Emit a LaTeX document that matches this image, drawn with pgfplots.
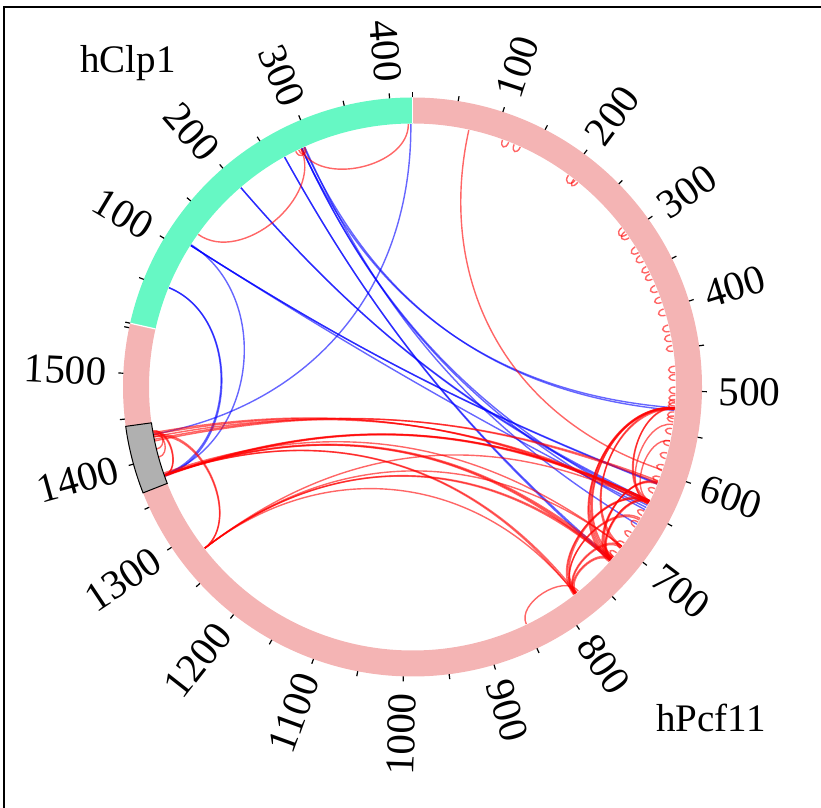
\documentclass[border=0pt]{standalone}
\usepackage{pgfplots}
\pgfplotsset{compat=1.18}
\usepackage{pgfplotstable}
\usepackage{fontspec}
\setmainfont{Liberation Serif}

\definecolor{ringP}{RGB}{244,180,180}
\definecolor{ringC}{RGB}{102,248,196}
\definecolor{domainfill}{RGB}{176,176,176}

\tikzset{
  linkr/.style={draw=red, line width=0.7bp, draw opacity=0.6},
  linkb/.style={draw=blue, line width=0.7bp, draw opacity=0.6},
}
\newcommand\ticklabelfont{\fontsize{20.5bp}{24bp}\selectfont}
\newcommand\namefont{\fontsize{19.5bp}{23bp}\selectfont}

% Cross-links: segment and residue of each end (P = hPcf11, C = hClp1), link class
\pgfplotstableread{
s1 p1 s2 p2 c
C 423 P 1428 b
C 288 P 520 b
C 291 P 523 b
C 288 P 642 b
C 292 P 668 b
C 288 P 648 b
C 265 P 720 b
C 265 P 722 b
C 201 P 636 b
C 201 P 638 b
C 109 P 613 b
C 109 P 614 b
C 109 P 645 b
C 110 P 1378 b
C 52 P 1376 b
C 52 P 1378 b
C 287 C 420 r
C 287 C 125 r
C 280 C 290 r
C 284 C 292 r
P 68 P 596 r
P 1377 P 636 r
P 1377 P 637 r
P 1378 P 636 r
P 1376 P 638 r
P 1425 P 636 r
P 1428 P 638 r
P 1430 P 640 r
P 1420 P 610 r
P 1422 P 612 r
P 1377 P 720 r
P 1377 P 722 r
P 1378 P 718 r
P 1380 P 700 r
P 1377 P 780 r
P 1377 P 778 r
P 1277 P 700 r
P 1277 P 720 r
P 1277 P 722 r
P 1277 P 780 r
P 1277 P 640 r
P 1277 P 1425 r
P 1277 P 1427 r
P 1377 P 1430 r
P 1377 P 1432 r
P 1400 P 1428 r
P 1410 P 1432 r
P 520 P 720 r
P 520 P 722 r
P 521 P 718 r
P 520 P 716 r
P 522 P 724 r
P 520 P 636 r
P 521 P 638 r
P 520 P 700 r
P 522 P 702 r
P 540 P 640 r
P 560 P 636 r
P 613 P 720 r
P 614 P 722 r
P 612 P 718 r
P 636 P 720 r
P 637 P 721 r
P 638 P 719 r
P 636 P 780 r
P 637 P 778 r
P 638 P 782 r
P 660 P 780 r
P 662 P 781 r
P 700 P 780 r
P 702 P 779 r
P 720 P 780 r
P 722 P 778 r
P 775 P 849 r
P 110 P 118 r
P 125 P 133 r
P 200 P 210 r
P 208 P 214 r
P 290 P 300 r
P 296 P 305 r
P 318 P 326 r
P 330 P 338 r
P 345 P 352 r
P 355 P 362 r
P 370 P 378 r
P 385 P 392 r
P 400 P 408 r
P 420 P 428 r
P 432 P 440 r
P 445 P 452 r
P 470 P 478 r
P 480 P 487 r
P 495 P 503 r
P 505 P 512 r
P 510 P 518 r
P 514 P 522 r
P 525 P 533 r
P 530 P 537 r
P 545 P 552 r
P 560 P 566 r
P 575 P 582 r
P 590 P 597 r
P 605 P 611 r
P 620 P 626 r
P 650 P 656 r
P 665 P 672 r
P 680 P 686 r
P 695 P 703 r
P 710 P 716 r
}\linktable

\begin{document}
\begin{tikzpicture}
\begin{axis}[
  at={(0,0)}, anchor=south west,
  width=410.5bp, height=404bp, scale only axis,
  xmin=-412.5, xmax=408.5, ymin=-421, ymax=387,
  hide axis, clip=false]
\coordinate (O) at (axis cs:0,0);

% frame
\draw[line width=1.1bp] (axis cs:-408.5,-440) -- (axis cs:-408.5,380) -- (axis cs:430,380);

% links as Bezier curves leaving the ring radially (1980 residues around the circle)
\def\segC{C}
\pgfplotstablegetrowsof{\linktable}
\pgfmathtruncatemacro\lastrow{\pgfplotsretval-1}
\pgfplotsforeachungrouped \i in {0,...,\lastrow}{%
  \pgfplotstablegetelem{\i}{s1}\of\linktable \edef\sa{\pgfplotsretval}%
  \pgfplotstablegetelem{\i}{p1}\of\linktable \edef\pa{\pgfplotsretval}%
  \pgfplotstablegetelem{\i}{s2}\of\linktable \edef\sb{\pgfplotsretval}%
  \pgfplotstablegetelem{\i}{p2}\of\linktable \edef\pb{\pgfplotsretval}%
  \pgfplotstablegetelem{\i}{c}\of\linktable \edef\lc{\pgfplotsretval}%
  \ifx\sa\segC \pgfmathsetmacro\ua{1555+\pa}\else \pgfmathsetmacro\ua{\pa}\fi
  \ifx\sb\segC \pgfmathsetmacro\ub{1555+\pb}\else \pgfmathsetmacro\ub{\pb}\fi
  \pgfmathsetmacro\ta{90-\ua/5.5}%
  \pgfmathsetmacro\tb{90-\ub/5.5}%
  \pgfmathsetmacro\dd{abs(\ta-\tb)}%
  \pgfmathsetmacro\dd{min(\dd,360-\dd)}%
  \pgfmathsetmacro\rc{263*(0.25+0.72*exp(-\dd*sqrt(\dd)/585.7))}%
  \pgfmathsetmacro\xa{263*cos(\ta)}\pgfmathsetmacro\ya{263*sin(\ta)}%
  \pgfmathsetmacro\xb{263*cos(\tb)}\pgfmathsetmacro\yb{263*sin(\tb)}%
  \pgfmathsetmacro\cxa{\rc*cos(\ta)}\pgfmathsetmacro\cya{\rc*sin(\ta)}%
  \pgfmathsetmacro\cxb{\rc*cos(\tb)}\pgfmathsetmacro\cyb{\rc*sin(\tb)}%
  \edef\tmp{\noexpand\draw[link\lc] (axis cs:\xa,\ya) .. controls (axis cs:\cxa,\cya) and (axis cs:\cxb,\cyb) .. (axis cs:\xb,\yb);}%
  \tmp
}

% ideogram ring: hPcf11 (1555 aa) and hClp1 (425 aa)
\draw[ringP, line width=13bp] ([shift={(O)}]90:138.25bp) arc[start angle=90, end angle=-192.727, radius=138.25bp];
\draw[ringC, line width=13bp] ([shift={(O)}]-192.727:138.25bp) arc[start angle=-192.727, end angle=-270, radius=138.25bp];
\draw[white, line width=0.6bp] ([shift={(O)}]90:131.75bp) -- ([shift={(O)}]90:144.75bp);
\draw[white, line width=0.6bp] ([shift={(O)}]-192.727:131.75bp) -- ([shift={(O)}]-192.727:144.75bp);

% highlighted domain of hPcf11 (1367-1442)
\draw[fill=domainfill, draw=black, line width=0.5bp]
  ([shift={(O)}]-158.545:131.75bp) arc[start angle=-158.545, end angle=-172.182, radius=131.75bp]
  -- ([shift={(O)}]-172.182:144.75bp) arc[start angle=-172.182, end angle=-158.545, radius=144.75bp] -- cycle;

% ticks every 50
\pgfplotsforeachungrouped \p in {0,50,...,1550}{%
  \pgfmathsetmacro\t{90-\p/5.5}%
  \edef\tmp{\noexpand\draw[line width=0.6bp] ([shift={(O)}]\t:144.75bp) -- ([shift={(O)}]\t:147.25bp);}\tmp
}
\pgfplotsforeachungrouped \p in {0,50,...,400}{%
  \pgfmathsetmacro\t{90-(1555+\p)/5.5}%
  \edef\tmp{\noexpand\draw[line width=0.6bp] ([shift={(O)}]\t:144.75bp) -- ([shift={(O)}]\t:147.25bp);}\tmp
}

% tick labels every 100, set radially
\pgfplotsforeachungrouped \p in {100,200,...,1500}{%
  \pgfmathsetmacro\t{90-\p/5.5}%
  \pgfmathsetmacro\tn{mod(\t+540,360)-180}%
  \pgfmathtruncatemacro\isleft{or(\tn>90,\tn<-90)}%
  \ifnum\isleft=1 \pgfmathsetmacro\rot{\tn+180}\def\anc{east}\else \let\rot\tn\def\anc{west}\fi
  \edef\tmp{\noexpand\node[rotate=\rot, anchor=\anc, inner sep=0pt, font=\noexpand\ticklabelfont] at ([shift={(O)}]\t:153bp) {\p};}\tmp
}
\pgfplotsforeachungrouped \p in {100,200,...,400}{%
  \pgfmathsetmacro\t{90-(1555+\p)/5.5}%
  \pgfmathsetmacro\tn{mod(\t+540,360)-180}%
  \pgfmathtruncatemacro\isleft{or(\tn>90,\tn<-90)}%
  \ifnum\isleft=1 \pgfmathsetmacro\rot{\tn+180}\def\anc{east}\else \let\rot\tn\def\anc{west}\fi
  \edef\tmp{\noexpand\node[rotate=\rot, anchor=\anc, inner sep=0pt, font=\noexpand\ticklabelfont] at ([shift={(O)}]\t:153bp) {\p};}\tmp
}

\node[font=\namefont] at (axis cs:-284.5,324) {hClp1};
\node[font=\namefont] at (axis cs:298.5,-331) {hPcf11};
\end{axis}
\pgfresetboundingbox
\useasboundingbox (0,0) rectangle (410.5bp,404bp);
\end{tikzpicture}
\end{document}
